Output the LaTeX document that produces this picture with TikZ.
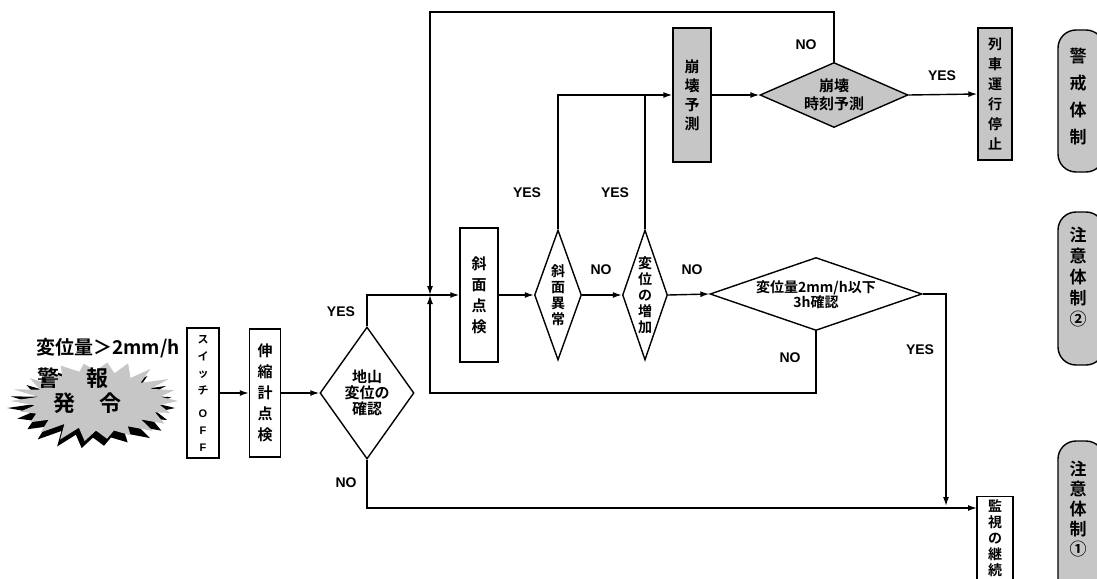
\documentclass[tikz,border=0pt]{standalone}
\usepackage{fontspec}
\setmainfont{Liberation Sans}
\newfontfamily\jp{Noto Sans CJK JP Bold}
\usetikzlibrary{arrows.meta,shapes.geometric}
\begin{document}
\begin{tikzpicture}[x=1pt,y=-1pt,
  lw/.style={line width=1.4pt},
  box/.style={draw,lw,inner sep=0pt,align=center,font=\jp\fontsize{15}{21}\selectfont},
  dia/.style={draw,lw,diamond,inner sep=0pt},
  diatext/.style={align=center,inner sep=0pt,font=\jp\fontsize{14}{16}\selectfont},
  shade/.style={fill=gray!45},
  pill/.style={draw,lw,fill=gray!45,rounded corners=18pt},
  pilltext/.style={align=center,font=\jp\fontsize{17}{21}\selectfont},
  bursttext/.style={font=\jp\fontsize{22}{24}\selectfont},
  lab/.style={font=\bfseries\fontsize{14}{16}\selectfont},
  arr/.style={lw,-{Latex[length=9pt,width=6pt]}},
  ln/.style={lw}
]
\useasboundingbox (0,0) rectangle (1097,578);

% start
\node[font=\jp\fontsize{19}{21}\selectfont] (cond) at (108,348) {変位量＞2mm/h};
\fill[black] plot[samples at={0,...,43},variable=\k]
  ({93+ifthenelse(mod(\k,2)==0,82,62)*(1+0.06*sin(\k*137))*cos(\k*360/44)},
   {408+ifthenelse(mod(\k,2)==0,40,29)*(1+0.06*sin(\k*211))*sin(\k*360/44)}) -- cycle;
\fill[gray!45] plot[samples at={0,...,43},variable=\k]
  ({96+ifthenelse(mod(\k,2)==0,82,62)*(1+0.06*sin(\k*137))*cos(\k*360/44)},
   {401+ifthenelse(mod(\k,2)==0,40,29)*(1+0.06*sin(\k*211))*sin(\k*360/44)}) -- cycle;
\node[bursttext] (b1) at (48,378) {警};
\node[bursttext] (b2) at (97,378) {報};
\node[bursttext] (b3) at (64,403) {発};
\node[bursttext] (b4) at (110,403) {令};

% boxes and diamonds
\node[box,minimum width=32pt,minimum height=130pt,font=\jp\fontsize{11}{17}\selectfont] (sw) at (203,393) {ス\\イ\\ッ\\チ\\[6pt]\rmfamily\bfseries O\\\rmfamily\bfseries F\\\rmfamily\bfseries F};
\node[box,minimum width=31pt,minimum height=128pt] (nob) at (265,393) {伸\\縮\\計\\点\\検};
\node[dia,minimum width=94pt,minimum height=132pt] (d1) at (367,393) {};
\node[diatext,font=\jp\fontsize{15}{16}\selectfont] (d1t) at (d1.center) {地山\\変位の\\確認};
\node[box,minimum width=38pt,minimum height=134pt] (slope) at (479,295) {斜\\面\\点\\検};
\node[dia,minimum width=47pt,minimum height=130pt] (d2) at (558,295) {};
\node[diatext] (d2t) at (d2.center) {斜\\面\\異\\常};
\node[dia,minimum width=45pt,minimum height=130pt] (d3) at (645,295) {};
\node[diatext] (d3t) at (d3.center) {変\\位\\の\\増\\加};
\node[dia,minimum width=212pt,minimum height=73pt] (d4) at (816,294) {};
\node[diatext,font=\jp\fontsize{14}{15}\selectfont] (d4t) at (816,295) {変位量2mm/h以下\\3h確認};
\node[box,shade,minimum width=38pt,minimum height=134pt,font=\jp\fontsize{15}{19}\selectfont] (pred) at (692,95) {崩\\壊\\予\\測};
\node[dia,shade,minimum width=148pt,minimum height=65pt] (d5) at (834,95) {};
\node[diatext,font=\jp\fontsize{15}{18}\selectfont] (d5t) at (834,95) {崩壊\\時刻予測};
\node[box,shade,minimum width=34pt,minimum height=132pt,font=\jp\fontsize{14}{20}\selectfont] (stop) at (995,94) {列\\車\\運\\行\\停\\止};
\node[box,minimum width=36pt,minimum height=90pt,anchor=north] (watch) at (995,496) {};
\node[align=center,font=\jp\fontsize{14}{16}\selectfont,inner sep=0pt] (watcht) at (995,538) {監\\視\\の\\継\\続};

% pills
\draw[pill] (1058,30) rectangle (1104,172);
\draw[pill] (1058,212) rectangle (1104,365);
\draw[pill] (1058,441) rectangle (1104,600);
\node[pilltext,font=\jp\fontsize{17}{27}\selectfont] (p1) at (1078,97) {警\\戒\\体\\制};
\node[pilltext] (p2) at (1078,277) {注\\意\\体\\制\\②};
\node[pilltext,font=\jp\fontsize{17}{20}\selectfont] (p3) at (1078,509) {注\\意\\体\\制\\①};

% coordinates
\coordinate (j1) at (430,295);
\coordinate (tl) at (430,12);
\coordinate (bl) at (430,393);
\coordinate (m) at (946,506);
\coordinate (w6) at (977,508);

% connectors
\draw[arr] (sw.east) -- (nob.west);
\draw[arr] (nob.east) -- (d1.west);
\draw[arr] (d1.north) |- (slope.west);
\draw[arr] (d5.north) |- (tl) -- (j1);
\draw[arr] (d4.south) |- (bl) -- (j1);
\draw[arr] (d1.south) |- (w6);
\draw[arr] (d4.east) -| (m);
\draw[arr] (slope.east) -- (d2.west);
\draw[arr] (d2.east) -- (d3.west);
\draw[arr] (d3.east) -- (d4.west);
\draw[arr] (d2.north) |- (pred.west);
\draw[ln] (d3.north) -- (d3.north |- pred.west);
\draw[arr] (pred.east) -- (d5.west);
\draw[arr] (d5.east) -- (stop.west);

% labels
\node[lab] (l1) at (341,312) {YES};
\node[lab] (l2) at (346,483) {NO};
\node[lab] (l3) at (527,193) {YES};
\node[lab] (l4) at (615,193) {YES};
\node[lab] (l5) at (601,270) {NO};
\node[lab] (l6) at (692,270) {NO};
\node[lab] (l7) at (790,358) {NO};
\node[lab] (l8) at (920,350) {YES};
\node[lab] (l9) at (806,45) {NO};
\node[lab] (l10) at (942,76) {YES};
\end{tikzpicture}
\end{document}
